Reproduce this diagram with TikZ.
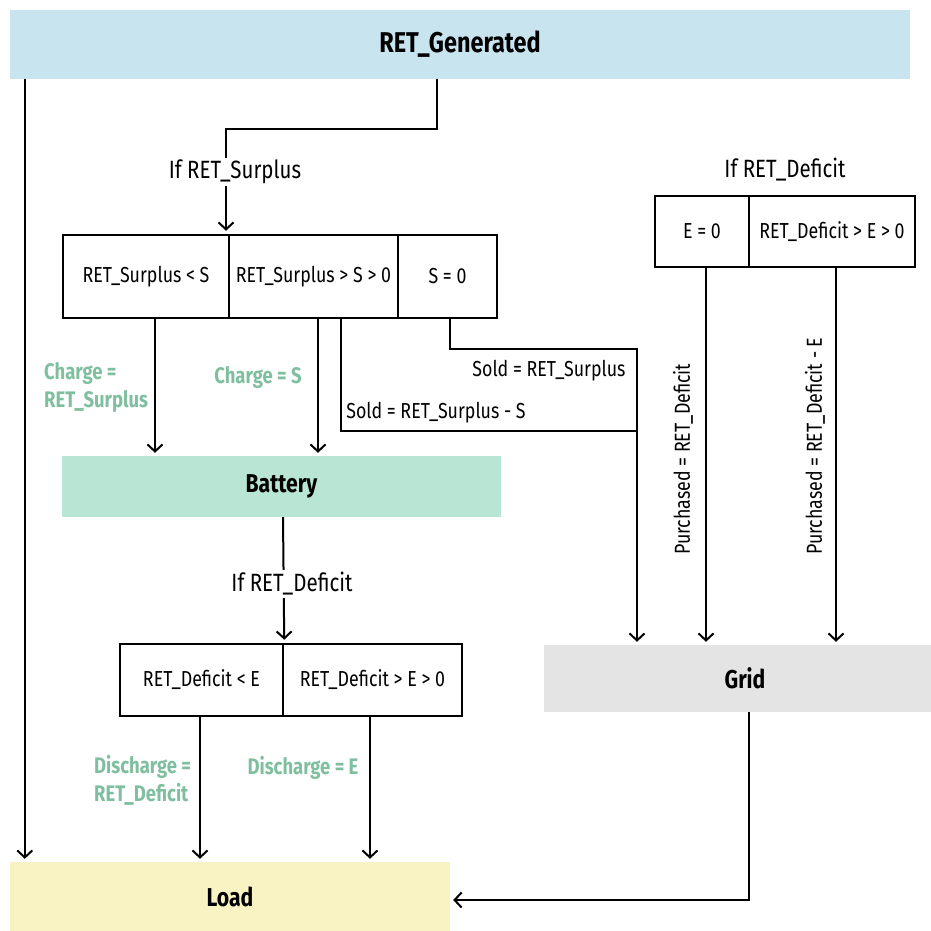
\documentclass[tikz,border=0pt]{standalone}
\usepackage{fontspec}
\setmainfont{Fira Sans}[FakeStretch=0.82]
\usetikzlibrary{arrows.meta,calc}
\definecolor{genblue}{HTML}{C8E4EE}
\definecolor{batmint}{HTML}{B9E5D4}
\definecolor{gridgrey}{HTML}{E4E4E4}
\definecolor{loadyel}{HTML}{F9F3C4}
\definecolor{lblgreen}{HTML}{7FBF9F}
\tikzset{
  bigbox/.style={inner sep=0pt, font=\bfseries\fontsize{25.8}{30}\selectfont},
  cell/.style={draw, line width=2.5pt, inner sep=0pt, font=\fontsize{21.7}{26}\selectfont},
  conn/.style={line width=2pt, -{Straight Barb[length=7pt,width=15pt,line width=2pt]}, shorten >=3pt},
  plain/.style={line width=2pt},
  cond/.style={fill=white, inner sep=2pt, font=\fontsize{25}{30}\selectfont},
  lbl/.style={inner sep=0pt, font=\fontsize{21.7}{26}\selectfont},
  glbl/.style={inner sep=0pt, text=lblgreen, align=left, font=\bfseries\fontsize{22.5}{28}\selectfont},
}
\begin{document}
\begin{tikzpicture}[x=1pt,y=-1pt]
\useasboundingbox (0,0) rectangle (931,931);
% main boxes
\node[bigbox, fill=genblue, minimum width=900pt, minimum height=69pt, font=\bfseries\fontsize{28.6}{32}\selectfont] (gen) at (460,44.5) {RET\_Generated};
\node[bigbox, fill=batmint, minimum width=439pt, minimum height=61pt] (bat) at (281.5,486.5) {Battery};
\node[bigbox, fill=gridgrey, minimum width=402pt, minimum height=67pt] (grid) at (745,678.5) {Grid};
\node[bigbox, fill=loadyel, minimum width=440pt, minimum height=70pt] (load) at (230,897) {Load};
% surplus cells
\node[cell, minimum width=166pt, minimum height=83pt] (s1) at (146,276.5) {RET\_Surplus < S};
\node[cell, minimum width=169pt, minimum height=83pt] (s2) at (313.5,276.5) {RET\_Surplus > S > 0};
\node[cell, minimum width=99pt, minimum height=83pt] (s3) at (447.5,276.5) {S = 0};
% right deficit cells
\node[cell, minimum width=94pt, minimum height=71pt] (d1) at (702,231.5) {E = 0};
\node[cell, minimum width=166pt, minimum height=71pt] (d2) at (832,231.5) {RET\_Deficit > E > 0};
% lower deficit cells
\node[cell, minimum width=163pt, minimum height=72pt] (b1) at (201.5,680) {RET\_Deficit < E};
\node[cell, minimum width=179pt, minimum height=72pt] (b2) at (372.5,680) {RET\_Deficit > E > 0};
% connectors
\draw[conn] ([xshift=15pt]gen.south west) -- ([xshift=15pt]load.north west);
\draw[conn] ([xshift=-23pt]gen.south) -- ++(0,50) -| ([xshift=80pt]s1.north);
\node[cond] (ifsur) at (235,172) {If RET\_Surplus};
\draw[conn] ([xshift=9pt]s1.south) coordinate (c1) -- (c1 |- bat.north);
\draw[conn] ([xshift=4.5pt]s2.south) coordinate (c2) -- (c2 |- bat.north);
\draw[conn] ([xshift=2.5pt]s3.south) -- ++(0,30) -| ([xshift=-108pt]grid.north);
\draw[plain] ([xshift=27.5pt]s2.south) |- ([xshift=-108pt,yshift=214pt]grid.north);
\draw[conn] ([xshift=4pt]d1.south) coordinate (c3) -- (c3 |- grid.north);
\draw[conn] ([xshift=4pt]d2.south) coordinate (c4) -- (c4 |- grid.north);
\node[cond] (ifdef1) at (785,170) {If RET\_Deficit};
\draw[conn] ([xshift=1.5pt]bat.south) -- (b1.north east);
\node[cond] (ifdef2) at (292,584) {If RET\_Deficit};
\draw[conn] ([xshift=-1.5pt]b1.south) coordinate (c5) -- (c5 |- load.north);
\draw[conn] ([xshift=-2.5pt]b2.south) coordinate (c6) -- (c6 |- load.north);
\draw[conn] ([xshift=4pt]grid.south) |- ([yshift=-3pt]load.east);
% labels
\node[glbl, anchor=west] (lc1) at (44,387) {Charge =\\RET\_Surplus};
\node[glbl] (lc2) at (258,377) {Charge = S};
\node[lbl] (ls1) at (436,413) {Sold = RET\_Surplus - S};
\node[lbl] (ls2) at (549,371) {Sold = RET\_Surplus};
\node[lbl, rotate=90, anchor=west] (lp1) at (683,555) {Purchased = RET\_Deficit};
\node[lbl, rotate=90, anchor=west] (lp2) at (815,555) {Purchased = RET\_Deficit - E};
\node[glbl, anchor=west] (ld1) at (94,780) {Discharge =\\RET\_Deficit};
\node[glbl] (ld2) at (303,768) {Discharge = E};
\end{tikzpicture}
\end{document}
